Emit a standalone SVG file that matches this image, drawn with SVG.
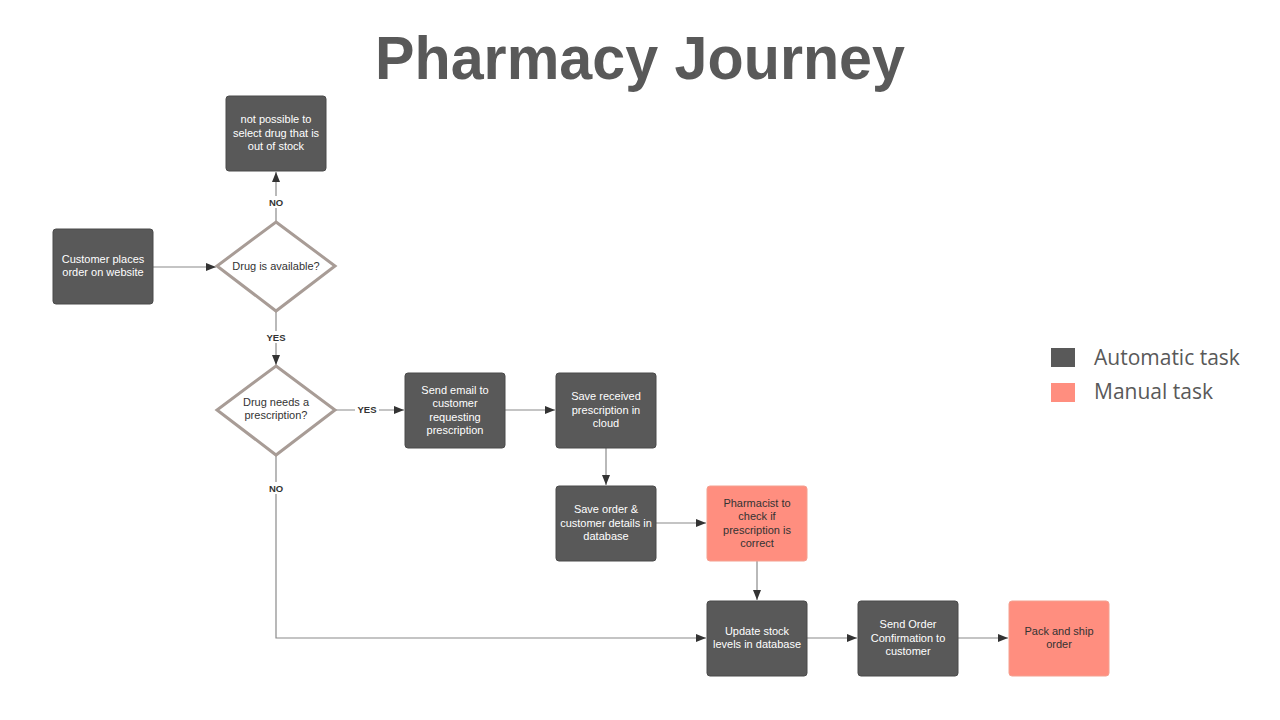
<svg xmlns="http://www.w3.org/2000/svg" width="1280" height="720" viewBox="0 0 1280 720">
<defs>
<marker id="arr" viewBox="0 0 10 10" refX="10" refY="5" markerWidth="10" markerHeight="10" markerUnits="userSpaceOnUse" orient="auto">
<path d="M0,1 L10,5 L0,9 Z" fill="#333333"/>
</marker>
<style>
.auto{fill:#595959;stroke:#4a4a4a;stroke-width:1}
.man{fill:#FF8E7F;stroke:#f4a090;stroke-width:1}
.dia{fill:#ffffff;stroke:#A89C96;stroke-width:3}
.t{font-family:"Liberation Sans",Arial,sans-serif;font-size:11px;text-anchor:middle}
.tw{fill:#ffffff}
.td{fill:#333333}
.lbl{font-family:"Liberation Sans",Arial,sans-serif;font-size:9.5px;font-weight:bold;fill:#333333;text-anchor:middle}
.c{fill:none;stroke:#8a8a8a;stroke-width:1.2}
.leg{font-family:"Open Sans","Liberation Sans",sans-serif;font-size:21px;fill:#595959}
</style>
</defs>
<rect width="1280" height="720" fill="#ffffff"/>
<text x="640" y="79" text-anchor="middle" font-family="'Liberation Sans',Arial,sans-serif" font-weight="bold" font-size="62" fill="#595959" textLength="530" lengthAdjust="spacingAndGlyphs">Pharmacy Journey</text>

<g id="connectors">
<line class="c" x1="153" y1="267" x2="216" y2="267" marker-end="url(#arr)"/>
<line class="c" x1="276" y1="222" x2="276" y2="172" marker-end="url(#arr)"/>
<line class="c" x1="276" y1="311" x2="276" y2="365" marker-end="url(#arr)"/>
<line class="c" x1="335" y1="410" x2="404" y2="410" marker-end="url(#arr)"/>
<line class="c" x1="505" y1="410" x2="555" y2="410" marker-end="url(#arr)"/>
<line class="c" x1="606" y1="448" x2="606" y2="485" marker-end="url(#arr)"/>
<line class="c" x1="656" y1="523" x2="706" y2="523" marker-end="url(#arr)"/>
<line class="c" x1="757" y1="561" x2="757" y2="600" marker-end="url(#arr)"/>
<polyline class="c" points="276,455 276,638 706,638" marker-end="url(#arr)"/>
<line class="c" x1="807" y1="638" x2="857" y2="638" marker-end="url(#arr)"/>
<line class="c" x1="958" y1="638" x2="1008" y2="638" marker-end="url(#arr)"/>
<rect x="266" y="196" width="20" height="12" fill="#ffffff"/>
<text class="lbl" x="276" y="206">NO</text>
<rect x="264" y="331" width="24" height="12" fill="#ffffff"/>
<text class="lbl" x="276" y="341">YES</text>
<rect x="355" y="403" width="24" height="12" fill="#ffffff"/>
<text class="lbl" x="367" y="413">YES</text>
<rect x="266" y="482" width="20" height="12" fill="#ffffff"/>
<text class="lbl" x="276" y="492">NO</text>
</g>

<g id="n-outofstock">
<rect class="auto" x="226" y="96" width="100" height="75" rx="3"/>
<text class="t tw" x="276" y="123">not possible to</text>
<text class="t tw" x="276" y="137">select drug that is</text>
<text class="t tw" x="276" y="150">out of stock</text>
</g>
<g id="n-customer">
<rect class="auto" x="53" y="229" width="100" height="75" rx="3"/>
<text class="t tw" x="103" y="263">Customer places</text>
<text class="t tw" x="103" y="276">order on website</text>
</g>
<g id="n-available">
<polygon class="dia" points="276,222 335,266 276,311 217,266"/>
<text class="t td" x="276" y="270">Drug is available?</text>
</g>
<g id="n-prescription">
<polygon class="dia" points="276,366 335,410 276,455 217,410"/>
<text class="t td" x="276" y="406">Drug needs a</text>
<text class="t td" x="276" y="419">prescription?</text>
</g>
<g id="n-email">
<rect class="auto" x="405" y="373" width="100" height="75" rx="3"/>
<text class="t tw" x="455" y="394">Send email to</text>
<text class="t tw" x="455" y="407">customer</text>
<text class="t tw" x="455" y="421">requesting</text>
<text class="t tw" x="455" y="434">prescription</text>
</g>
<g id="n-cloud">
<rect class="auto" x="556" y="373" width="100" height="75" rx="3"/>
<text class="t tw" x="606" y="400">Save received</text>
<text class="t tw" x="606" y="414">prescription in</text>
<text class="t tw" x="606" y="427">cloud</text>
</g>
<g id="n-saveorder">
<rect class="auto" x="556" y="486" width="100" height="75" rx="3"/>
<text class="t tw" x="606" y="513">Save order &amp;</text>
<text class="t tw" x="606" y="527">customer details in</text>
<text class="t tw" x="606" y="540">database</text>
</g>
<g id="n-pharmacist">
<rect class="man" x="707" y="486" width="100" height="75" rx="3"/>
<text class="t td" x="757" y="507">Pharmacist to</text>
<text class="t td" x="757" y="520">check if</text>
<text class="t td" x="757" y="534">prescription is</text>
<text class="t td" x="757" y="547">correct</text>
</g>
<g id="n-update">
<rect class="auto" x="707" y="601" width="100" height="75" rx="3"/>
<text class="t tw" x="757" y="635">Update stock</text>
<text class="t tw" x="757" y="648">levels in database</text>
</g>
<g id="n-confirm">
<rect class="auto" x="858" y="601" width="100" height="75" rx="3"/>
<text class="t tw" x="908" y="628">Send Order</text>
<text class="t tw" x="908" y="642">Confirmation to</text>
<text class="t tw" x="908" y="655">customer</text>
</g>
<g id="n-pack">
<rect class="man" x="1009" y="601" width="100" height="75" rx="3"/>
<text class="t td" x="1059" y="635">Pack and ship</text>
<text class="t td" x="1059" y="648">order</text>
</g>

<g id="legend">
<rect x="1051" y="348" width="24" height="19" fill="#595959"/>
<text class="leg" x="1094" y="365">Automatic task</text>
<rect x="1051" y="383" width="24" height="19" fill="#FF8E7F"/>
<text class="leg" x="1094" y="399">Manual  task</text>
</g>
</svg>
